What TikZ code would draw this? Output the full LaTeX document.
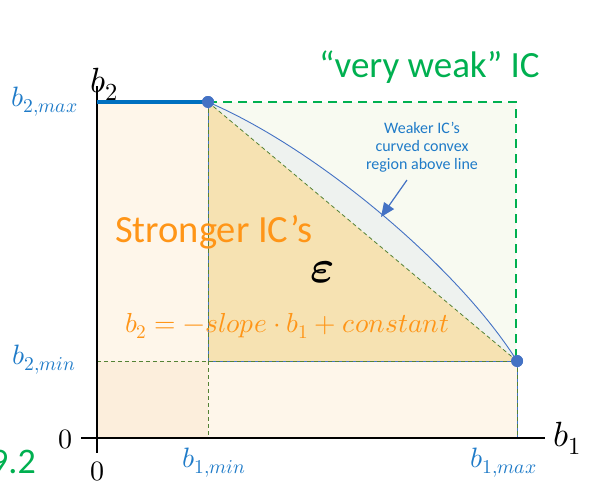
\documentclass[tikz,border=0pt]{standalone}
\usepackage{fontspec}
\usepackage{unicode-math}
\setmainfont{Carlito}
\setmathfont{Latin Modern Math}
\usetikzlibrary{arrows.meta}
\definecolor{labblue}{HTML}{1F7BC8}
\definecolor{dotblue}{HTML}{4472C4}
\definecolor{thickblue}{HTML}{0070C0}
\definecolor{icgreen}{HTML}{00B050}
\definecolor{olive}{HTML}{548235}
\definecolor{icorange}{HTML}{FF9517}
\definecolor{tan}{HTML}{F6E2B2}
\definecolor{beige}{HTML}{FEF6EA}
\definecolor{beigedark}{HTML}{FCEEDC}
\definecolor{palegreen}{HTML}{F8FAF1}
\definecolor{band}{HTML}{EEF2EF}
\tikzset{
  dot/.style={circle,fill=dotblue,inner sep=0pt,minimum size=12pt},
  olivedash/.style={olive,dash pattern=on 4pt off 3pt,line width=0.8pt},
  greendash/.style={icgreen,line width=2.6pt,dash pattern=on 9pt off 6pt},
  thinblue/.style={dotblue,line width=0.9pt},
  lab/.style={labblue,inner sep=0pt,font=\fontsize{28}{32}\selectfont},
  axlab/.style={black,inner sep=0pt,font=\fontsize{35}{38}\selectfont},
  zerolab/.style={black,inner sep=0pt,font=\fontsize{28}{32}\selectfont},
}
\begin{document}
\begin{tikzpicture}[x=1pt,y=-1pt]
\useasboundingbox (0,0) rectangle (591,485);
\clip (0,0) rectangle (591,485);
% named corner points
\coordinate (O) at (97,438);
\coordinate (TL) at (97,102);
\coordinate (MinL) at (97,361);
\coordinate (C) at (208,361);
\coordinate (BotMin) at (208,438);
\coordinate (BotMax) at (517,438);
\coordinate (TR) at (516,102);
\coordinate (RB) at (516,361);
\coordinate (AxTop) at (97,86);
\coordinate (AxBot) at (97,453);
\coordinate (AxLeft) at (81,438);
\coordinate (AxRight) at (545,438);
\node[dot] (A) at (208,102) {};
\node[dot] (B) at (517,361) {};
% fills
\fill[palegreen] (A.center) -- (TR) -- (RB) -- (B.center) -- cycle;
\fill[beige] (TL) rectangle (BotMin);
\fill[beige] (MinL) rectangle (BotMax);
\fill[beigedark] (MinL) rectangle (BotMin);
\fill[band] (A.center) .. controls (320,150) and (460,270) .. (B.center) -- cycle;
\fill[tan] (A.center) -- (C) -- (B.center) -- cycle;
% borders
\draw[thinblue] (A.center) -- (C) -- (B.center);
\draw[thinblue] (B.center) -- (BotMax);
\draw[olivedash] (TL) -- (O) -- (BotMax);
\draw[olivedash] (A.center) -- (BotMin);
\draw[olivedash] (MinL) -- (B.center) -- (BotMax);
\draw[olivedash] (A.center) -- (B.center);
\draw[greendash] (A.center) -- (TR) -- (RB);
\draw[thinblue] (A.center) .. controls (320,150) and (460,270) .. (B.center);
% axes
\draw[black,line width=2.4pt] (AxTop) -- (AxBot);
\draw[black,line width=2.4pt] (AxLeft) -- (AxRight);
\draw[thickblue,line width=4pt] (TL) -- (A.center);
\node[dot] at (A) {};
\node[dot] at (B) {};
% arrow
\coordinate (arrS) at (407,180);
\coordinate (arrE) at (381,217);
\draw[dotblue,line width=1.2pt,-{Triangle[length=14pt,width=12pt]}] (arrS) -- (arrE);
% texts
\node[labblue,align=center,inner sep=0pt,font=\fontsize{16}{18}\selectfont] (weak) at (422,147) {Weaker IC’s\\curved convex\\region above line};
\node[icgreen,anchor=base west,inner sep=0pt,font=\fontsize{37}{40}\selectfont] (vw) at (319,77) {“very weak” IC};
\node[icorange,anchor=base west,inner sep=0pt,font=\fontsize{38.5}{42}\selectfont] (strong) at (115,242) {Stronger IC’s};
\node[icorange,anchor=base west,inner sep=0pt,font=\fontsize{27.5}{30}\selectfont] (eq) at (125,332) {$b_2=-slope\cdot b_1+constant$};
\node[black,inner sep=0pt,font=\fontsize{46}{50}\selectfont] (eps) at (323,272) {$\symbfit{\varepsilon}$};
\node[lab,anchor=base west] (b2max) at (11,106) {$b_{2,max}$};
\node[lab,anchor=base west] (b2min) at (12,364) {$b_{2,min}$};
\node[lab,anchor=base west] (b1min) at (182,467) {$b_{1,min}$};
\node[lab,anchor=base west] (b1max) at (470,467) {$b_{1,max}$};
\node[axlab,anchor=base west] (b2) at (90,92) {$b_2$};
\node[axlab,anchor=base west] (b1) at (553,446) {$b_1$};
\node[zerolab] (z1) at (65,439) {$0$};
\node[zerolab] (z2) at (97,471) {$0$};
\node[icgreen,anchor=base west,inner sep=0pt,font=\fontsize{36}{40}\selectfont] (nine) at (-10,473) {9.2};
\end{tikzpicture}
\end{document}
